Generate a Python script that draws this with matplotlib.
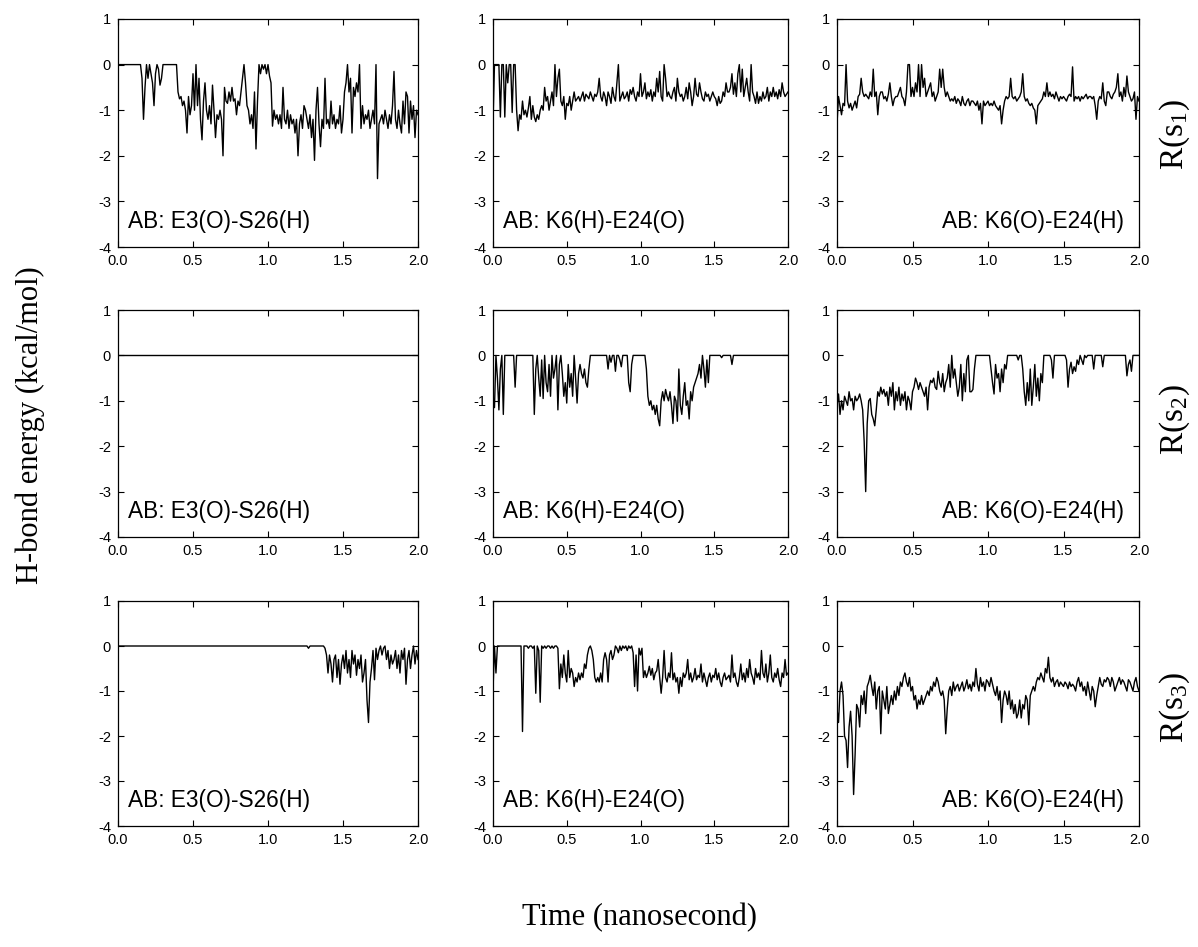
import numpy as np
import matplotlib
matplotlib.use("Agg")
import matplotlib.pyplot as plt

plt.rcParams['axes.unicode_minus'] = False
plt.rcParams['mathtext.fontset'] = 'custom'
plt.rcParams['mathtext.rm'] = 'Liberation Serif'
plt.rcParams['mathtext.default'] = 'rm'

# ---------------- data (time step 0.01 ns, 0.00 .. 2.00) ----------------
row_labels = ['R(s$_1$)', 'R(s$_2$)', 'R(s$_3$)']
pair_labels = ['AB: E3(O)-S26(H)', 'AB: K6(H)-E24(O)', 'AB: K6(O)-E24(H)']
x_ticks = [0.0, 0.5, 1.0, 1.5, 2.0]
x_tick_labels = ['0.0', '0.5', '1.0', '1.5', '2.0']
y_ticks = [1, 0, -1, -2, -3, -4]
y_tick_labels = ['1', '0', '-1', '-2', '-3', '-4']

s1_e3_s26 = [
    0, 0, 0, 0, 0, 0, 0, 0, 0, 0,
    0, 0, 0, 0, 0, 0, -0.3, -1.2, -0.5, 0,
    -0.3, 0, -0.2, -0.4, -0.9, -0.2, 0, -0.1, -0.45, -0.3,
    0, 0, 0, 0, 0, 0, 0, 0, 0, 0,
    -0.6, -0.75, -0.7, -0.9, -0.8, -1.0, -1.5, -0.7, -1.1, -0.9,
    -0.2, -1.0, 0, -0.9, -0.3, -1.2, -1.65, -0.8, -0.4, -1.0,
    -1.2, -0.9, -1.3, -0.45, -1.0, -1.6, -1.1, -1.2, -1.0, -1.2,
    -2.0, -0.5, -0.8, -0.85, -0.6, -0.8, -0.5, -0.8, -0.75, -1.1,
    -0.8, -0.9, -0.6, -0.3, 0, -0.4, -0.9, -1.0, -1.3, -1.1,
    -1.4, -0.6, -1.85, -0.8, 0, -0.2, 0, -0.1, 0, -0.2,
    0, -0.25, -0.4, -1.35, -1.0, -1.2, -1.1, -1.3, -1.1, -1.4,
    -0.5, -1.2, -1.3, -1.0, -1.4, -1.1, -1.3, -1.2, -1.5, -1.2,
    -2.0, -1.3, -1.1, -1.4, -0.9, -1.0, -1.2, -1.4, -1.1, -1.6,
    -1.2, -2.1, -1.0, -0.5, -1.3, -1.8, -1.2, -1.4, -0.3, -1.3,
    -1.2, -1.4, -0.8, -1.3, -1.1, -1.4, -1.2, -1.3, -0.9, -1.5,
    -1.2, -0.6, -0.4, 0, -0.6, -0.3, -1.5, -0.5, -0.7, -0.4,
    -0.6, 0, -1.4, -0.9, -1.3, -1.1, -1.2, -1.0, -1.4, -1.2,
    -1.0, -1.3, 0, -2.5, -1.3, -1.2, -1.1, -1.3, -1.0, -1.2,
    -1.4, -1.1, -1.3, -0.9, -0.15, -1.2, -1.4, -1.0, -1.3, -1.5,
    -0.8, -1.3, -0.6, -0.7, -1.5, -0.8, -1.2, -0.9, -1.6, -1.0,
    -1.1]

s1_k6h_e24o = [
    -1.3, 0, 0, 0, 0, -1.15, 0, 0, -1.15, 0,
    -0.4, 0, 0, -1.05, 0, 0, -1.0, -1.45, -1.1, -1.2,
    -0.8, -1.1, -1.0, -1.15, -0.95, -0.7, -1.2, -0.9, -1.15, -1.25,
    -1.1, -1.2, -1.0, -0.9, -1.0, -0.5, -0.8, -0.7, -1.0, -0.8,
    -0.6, -0.9, 0, -0.7, -0.3, -0.1, -0.8, -0.9, -0.7, -1.2,
    -0.85, -0.9, -0.7, -1.0, -0.8, -0.6, -0.8, -0.75, -0.7, -0.8,
    -0.7, -0.6, -0.8, -0.65, -0.7, -0.75, -0.6, -0.7, -0.8, -0.65,
    -0.7, -0.6, -0.3, -0.7, -0.8, -0.6, -0.7, -0.9, -0.6, -0.7,
    -0.85, -0.5, -0.7, -0.8, -0.4, 0, -0.8, -0.7, -0.6, -0.75,
    -0.7, -0.6, -0.8, -0.55, -0.65, -0.5, -0.7, -0.8, -0.6, -0.7,
    -0.2, -0.7, -0.6, -0.4, -0.75, -0.6, -0.7, -0.55, -0.8, -0.6,
    -0.7, -0.3, -0.6, -0.15, -0.7, -0.8, 0, -0.3, -0.7, -0.6,
    -0.7, -0.75, -0.6, -0.5, -0.8, -0.3, -0.6, -0.7, -0.65, -0.8,
    -0.7, -0.5, -0.75, -0.4, -0.6, -0.9, -0.7, -0.3, -0.65, -0.7,
    -0.4, -0.6, -0.75, -0.8, -0.6, -0.7, -0.65, -0.8, -0.7, -0.6,
    -0.7, -0.75, -0.9, -0.7, -0.85, -0.8, -0.6, -0.7, -0.4, -0.6,
    -0.6, -0.5, -0.2, -0.65, -0.4, -0.7, -0.2, 0, -0.6, -0.1,
    -0.7, -0.5, -0.3, -0.6, -0.8, 0, -0.6, -0.7, -0.85, -0.6,
    -0.85, -0.7, -0.8, -0.6, -0.75, -0.7, -0.5, -0.8, -0.6, -0.7,
    -0.5, -0.7, -0.6, -0.75, -0.55, -0.7, -0.4, -0.6, -0.7, -0.65,
    -0.6]

s1_k6o_e24h = [
    -1.3, -0.7, -0.9, -1.1, -0.85, -0.9, 0, -0.8, -0.95, -0.85,
    -1.0, -0.9, -0.8, -0.95, -0.7, -0.65, -0.3, -0.6, -0.7, -0.65,
    -0.7, -0.75, -0.6, -0.7, -0.1, -0.7, -0.6, -1.1, -0.7, -0.6,
    -0.6, -0.75, -0.7, -0.8, -0.65, -0.4, -0.7, -0.9, -0.75, -0.7,
    -0.7, -0.6, -0.5, -0.7, -0.75, -0.9, -0.6, 0, 0, -0.7,
    -0.5, -0.7, -0.4, -0.6, 0, -0.7, 0, -0.5, -0.3, -0.7,
    -0.6, -0.5, -0.4, -0.7, -0.6, -0.8, -0.7, -0.6, -0.1, -0.5,
    -0.1, -0.5, -0.7, -0.6, -0.7, -0.8, -0.75, -0.8, -0.7, -0.85,
    -0.75, -0.8, -0.9, -0.7, -0.85, -0.9, -0.8, -0.75, -0.9, -0.8,
    -0.8, -0.85, -0.9, -0.8, -1.0, -0.85, -1.3, -0.8, -0.9, -0.85,
    -0.8, -0.9, -0.85, -0.9, -0.8, -0.9, -0.95, -1.0, -0.9, -1.3,
    -1.0, -0.8, -0.7, -0.75, -0.7, -0.3, -0.7, -0.75, -0.7, -0.8,
    -0.75, -0.7, -0.6, -0.2, -0.7, -0.8, -0.75, -0.85, -0.9, -0.85,
    -0.95, -1.0, -1.3, -0.9, -0.85, -0.8, -0.75, -0.6, -0.7, -0.4,
    -0.7, -0.6, -0.7, -0.65, -0.75, -0.6, -0.7, -0.8, -0.7, -0.75,
    -0.7, -0.75, -0.8, -0.7, -0.65, -0.7, -0.05, -0.8, -0.7, -0.75,
    -0.7, -0.8, -0.7, -0.75, -0.7, -0.65, -0.75, -0.7, -0.7, -0.75,
    -0.7, -0.9, -1.2, -0.8, -0.7, -0.75, -0.4, -0.8, -0.9, -0.6,
    -0.6, -0.7, -0.75, -0.65, -0.6, -0.5, -0.2, -0.7, -0.6, -0.8,
    -0.5, -0.7, -0.25, -0.6, -0.7, -0.8, -0.75, -0.6, -1.2, -0.7,
    -0.8]

# R(s2), E3(O)-S26(H): no H-bond formed over the whole run (flat at zero)
s2_e3_s26_time = [0.0, 2.0]
s2_e3_s26 = [0.0, 0.0]

s2_k6h_e24o = [
    -0.9, -1.15, 0, -0.5, -1.2, -0.3, 0, -1.3, 0, 0,
    0, 0, 0, 0, 0, -0.7, 0, 0, 0, 0,
    0, 0, 0, 0, 0, 0, 0, 0, -1.3, -0.3,
    0, -0.5, -0.9, -0.1, -0.95, 0, -0.6, -0.8, -0.2, -0.9,
    0, -0.5, -0.3, 0, -1.2, -0.2, 0, -0.4, -0.9, -0.6,
    -1.05, -0.2, -0.7, -0.4, -0.9, 0, -0.5, -1.05, -0.4, -0.2,
    -0.4, -0.5, -0.3, -0.6, -0.7, -0.3, 0, 0, 0, 0,
    0, 0, 0, 0, 0, 0, 0, 0, -0.3, 0,
    -0.15, 0, 0, -0.35, 0, 0, -0.1, -0.25, 0, 0,
    0, 0, -0.6, -0.8, -0.2, 0, 0, 0, 0, 0,
    0, 0, 0, 0, -0.3, -0.9, -1.1, -1.0, -1.2, -1.1,
    -1.3, -1.1, -1.4, -1.55, -1.0, -0.8, -1.0, -0.75, -0.9, -1.0,
    -0.8, -1.1, -1.5, -0.9, -1.0, -1.45, -0.3, -1.1, -1.3, -0.9,
    -0.6, -1.1, -1.0, -1.4, -0.8, -1.0, -0.7, -0.6, -0.5, -0.4,
    -0.2, -0.5, 0, -0.3, -0.7, -0.1, -0.6, 0, 0, 0,
    0, 0, 0, 0, 0, -0.05, 0, 0, 0, 0,
    0, 0, -0.2, 0, 0, 0, 0, 0, 0, 0,
    0, 0, 0, 0, 0, 0, 0, 0, 0, 0,
    0, 0, 0, 0, 0, 0, 0, 0, 0, 0,
    0, 0, 0, 0, 0, 0, 0, 0, 0, 0,
    0]

s2_k6o_e24h = [
    -1.1, -0.85, -1.3, -1.0, -1.2, -0.9, -1.0, -1.1, -0.8, -1.0,
    -0.95, -1.2, -0.9, -1.0, -0.95, -0.85, -1.0, -1.2, -1.9, -3.0,
    -1.5, -1.0, -0.95, -1.3, -1.4, -1.55, -1.2, -0.8, -0.9, -0.7,
    -0.85, -0.75, -0.9, -0.8, -1.1, -0.7, -0.9, -0.6, -1.2, -0.8,
    -1.0, -0.7, -1.1, -0.85, -1.0, -0.8, -1.2, -0.9, -1.0, -1.2,
    -0.8, -0.7, -0.5, -0.6, -0.75, -0.6, -0.7, -0.8, -0.9, -0.7,
    -1.2, -0.7, -0.55, -0.6, -0.5, -0.7, -0.75, -0.35, -0.6, -0.7,
    -0.4, -0.8, -0.6, -0.5, -0.2, -0.7, 0, -0.5, -0.3, -0.6,
    -0.9, -0.7, -0.2, -1.0, -0.4, -0.8, -0.1, 0, -0.8, -0.8,
    -0.75, -0.3, 0, 0, 0, 0, 0, 0, 0, 0,
    0, 0, -0.3, -0.6, -0.85, -0.2, -0.5, -0.4, -0.8, -0.3,
    -0.6, -0.2, -0.3, 0, 0, 0, 0, 0, 0, 0,
    -0.1, 0, 0, -0.3, -0.8, -1.1, -0.6, -1.0, -0.3, -1.1,
    -0.7, -0.2, -0.9, -0.5, -1.0, -0.4, -0.6, 0, 0, 0,
    0, 0, -0.1, -0.5, 0, 0, 0, 0, 0, 0,
    0, 0, -0.1, -0.7, -0.3, -0.15, -0.4, -0.25, -0.35, -0.1,
    -0.2, 0, -0.1, -0.2, 0, -0.05, 0, 0, 0, 0,
    -0.3, 0, 0, 0, 0, 0, -0.25, 0, 0, 0,
    0, 0, 0, 0, 0, 0, 0, 0, 0, 0,
    0, 0, -0.45, -0.2, -0.1, -0.35, 0, 0, 0, 0,
    0]

s3_e3_s26 = [
    0, 0, 0, 0, 0, 0, 0, 0, 0, 0,
    0, 0, 0, 0, 0, 0, 0, 0, 0, 0,
    0, 0, 0, 0, 0, 0, 0, 0, 0, 0,
    0, 0, 0, 0, 0, 0, 0, 0, 0, 0,
    0, 0, 0, 0, 0, 0, 0, 0, 0, 0,
    0, 0, 0, 0, 0, 0, 0, 0, 0, 0,
    0, 0, 0, 0, 0, 0, 0, 0, 0, 0,
    0, 0, 0, 0, 0, 0, 0, 0, 0, 0,
    0, 0, 0, 0, 0, 0, 0, 0, 0, 0,
    0, 0, 0, 0, 0, 0, 0, 0, 0, 0,
    0, 0, 0, 0, 0, 0, 0, 0, 0, 0,
    0, 0, 0, 0, 0, 0, 0, 0, 0, 0,
    0, 0, 0, 0, 0, 0, 0, -0.05, 0, 0,
    0, 0, 0, 0, 0, 0, 0, 0, -0.05, -0.2,
    -0.6, -0.2, -0.4, -0.8, -0.3, -0.2, -0.7, -0.3, -0.85, -0.4,
    -0.2, -0.5, -0.1, -0.6, -0.3, -0.7, -0.1, -0.4, -0.2, -0.65,
    -0.3, -0.5, -0.2, -0.8, -0.6, -0.3, -1.2, -1.7, -0.8, -0.5,
    -0.1, -0.75, -0.05, -0.3, -0.1, 0, -0.2, -0.05, 0, -0.3,
    -0.1, -0.5, -0.2, -0.4, -0.3, -0.1, -0.5, -0.2, -0.6, -0.1,
    -0.3, -0.05, -0.85, -0.3, -0.1, -0.5, -0.2, 0, -0.4, -0.1,
    -0.3]

s3_k6h_e24o = [
    -1.0, 0, -0.6, 0, 0, 0, 0, 0, 0, 0,
    0, 0, 0, 0, 0, 0, 0, 0, 0, 0,
    -1.9, 0, 0, 0, -0.05, 0, 0, -0.05, 0, -1.05,
    0, -0.1, -1.25, 0, -0.05, 0, -0.05, 0, 0, -0.05,
    0, -0.05, 0, 0, -0.05, -0.95, -0.4, -0.7, -0.2, -0.6,
    -0.8, -0.1, -0.7, -0.5, -0.6, -0.9, -0.7, -0.8, -0.6, -0.75,
    -0.6, -0.7, -0.4, -0.5, -0.2, -0.05, 0, -0.1, -0.3, -0.7,
    -0.8, -0.7, -0.8, -0.6, -0.8, -0.3, -0.15, -0.3, -0.8, -0.2,
    -0.1, -0.3, -0.2, 0, -0.05, -0.15, 0, -0.1, 0, -0.05,
    0, -0.1, 0, -0.05, 0, -0.15, -0.9, -0.2, -1.0, -0.05,
    -0.2, -0.05, -0.7, -0.55, -0.7, -0.6, -0.45, -0.65, -0.5, -0.75,
    -0.6, -0.55, -0.3, -0.7, -1.05, -0.7, -0.1, -0.7, -0.8, -0.6,
    -0.7, -0.15, -0.75, -0.6, -0.8, -0.7, -1.05, -0.7, -0.9, -0.6,
    -0.7, -0.6, -0.3, -0.75, -0.6, -0.8, -0.7, -0.5, -0.75, -0.65,
    -0.7, -0.4, -0.8, -0.6, -0.75, -0.9, -0.7, -0.6, -0.8, -0.65,
    -0.7, -0.5, -0.75, -0.6, -0.8, -0.9, -0.7, -0.6, -0.75, -0.7,
    -0.65, -0.8, -0.2, -0.7, -0.6, -0.8, -0.9, -0.7, -0.4, -0.75,
    -0.6, -0.8, -0.5, -0.7, -0.3, -0.6, -0.7, -0.85, -0.5, -0.7,
    -0.6, -0.75, -0.1, -0.6, -0.7, -0.4, -0.8, -0.6, -0.2, -0.7,
    -0.8, -0.6, -0.7, -0.5, -0.75, -0.9, -0.6, -0.7, -0.3, -0.65,
    -0.6]

s3_k6o_e24h = [
    -1.4, -1.7, -1.0, -0.8, -1.1, -2.0, -2.1, -2.7, -1.8, -1.45,
    -2.0, -3.3, -2.4, -1.3, -1.4, -1.8, -1.1, -1.3, -1.0, -1.5,
    -0.9, -0.8, -0.65, -0.9, -1.1, -0.8, -1.4, -1.0, -0.9, -1.95,
    -1.0, -1.2, -1.4, -0.9, -1.5, -1.3, -1.1, -1.3, -1.0, -1.2,
    -0.9, -1.1, -0.8, -0.9, -0.7, -0.6, -0.8, -0.9, -0.7, -1.0,
    -0.9, -1.2, -1.1, -1.4, -1.2, -1.3, -1.1, -1.3, -1.2, -1.1,
    -1.0, -1.1, -0.9, -1.0, -0.8, -0.9, -0.7, -0.8, -1.0, -1.1,
    -1.0, -1.2, -1.95, -1.4, -1.0, -0.9, -1.1, -0.8, -1.0, -0.9,
    -0.85, -1.0, -0.9, -0.8, -1.0, -0.9, -0.75, -0.95, -0.85, -1.0,
    -0.8, -0.9, -0.5, -0.85, -1.0, -0.7, -0.9, -0.8, -1.0, -0.75,
    -0.8, -0.9, -0.7, -0.85, -1.0, -1.1, -0.9, -1.2, -1.0, -1.7,
    -1.2, -1.0, -1.1, -1.3, -1.0, -1.4, -1.2, -1.5, -1.3, -1.6,
    -1.5, -1.2, -1.6, -1.3, -1.4, -1.1, -1.2, -1.75, -1.1, -1.0,
    -0.9, -1.0, -0.8, -0.7, -0.75, -0.6, -0.7, -0.8, -0.5, -0.6,
    -0.25, -0.7, -0.8, -0.7, -0.9, -0.8, -0.75, -0.9, -0.8, -0.85,
    -0.9, -0.8, -0.85, -0.95, -0.8, -0.9, -0.85, -0.9, -1.0, -0.8,
    -0.7, -0.9, -0.8, -1.0, -0.9, -1.1, -0.8, -1.0, -1.2, -0.9,
    -1.0, -1.35, -1.1, -0.9, -0.7, -0.85, -0.9, -0.75, -0.8, -0.7,
    -0.75, -0.9, -0.7, -0.8, -1.0, -0.9, -0.8, -0.7, -0.85, -0.75,
    -0.8, -0.9, -1.0, -0.75, -0.8, -0.9, -1.0, -0.8, -0.7, -0.9,
    -1.0]

grid_series = [
    [s1_e3_s26, s1_k6h_e24o, s1_k6o_e24h],
    [s2_e3_s26, s2_k6h_e24o, s2_k6o_e24h],
    [s3_e3_s26, s3_k6h_e24o, s3_k6o_e24h],
]

# ---------------- layout (figure fractions) ----------------
W, H = 1198, 947
col_px = [(118, 300), (493, 295), (837, 302)]
row_px = [(19, 228), (310, 227), (601, 225)]

fig = plt.figure(figsize=(W / 100, H / 100), dpi=100)

for r in range(3):
    for c in range(3):
        x0, w = col_px[c]
        y0, h = row_px[r]
        ax = fig.add_axes([x0 / W, 1 - (y0 + h) / H, w / W, h / H])
        vals = grid_series[r][c]
        if r == 1 and c == 0:
            t = s2_e3_s26_time
        else:
            t = np.linspace(0.0, 2.0, len(vals))
        ax.plot(t, vals, color='black', lw=1.0)
        ax.set_xlim(0, 2)
        ax.set_ylim(-4, 1)
        ax.set_xticks(x_ticks)
        ax.set_xticklabels(x_tick_labels, family='Liberation Sans')
        ax.set_yticks(y_ticks)
        ax.set_yticklabels(y_tick_labels, family='Liberation Sans')
        ax.tick_params(direction='in', top=True, right=True, length=4,
                       width=0.8, labelsize=10.5, pad=5, colors='black')
        for sp in ax.spines.values():
            sp.set_linewidth(0.9)
            sp.set_color('black')
        if c < 2:
            ax.text(0.035, 0.085, pair_labels[c], transform=ax.transAxes,
                    ha='left', va='baseline', fontsize=16.3,
                    family='Liberation Sans')
        else:
            ax.text(0.95, 0.085, pair_labels[c], transform=ax.transAxes,
                    ha='right', va='baseline', fontsize=16.3,
                    family='Liberation Sans')

row_centers = [135, 420, 708]
for r in range(3):
    fig.text(1175 / W, 1 - row_centers[r] / H, row_labels[r], rotation=90,
             ha='center', va='center', fontsize=24, family='Liberation Serif')

fig.text(30 / W, 1 - 425 / H, 'H-bond energy (kcal/mol)', rotation=90,
         ha='center', va='center', fontsize=22, family='Liberation Serif')
fig.text(640 / W, 1 - 918 / H, 'Time (nanosecond)', ha='center',
         va='center', fontsize=22, family='Liberation Serif')

fig.savefig('out.png', dpi=100)
